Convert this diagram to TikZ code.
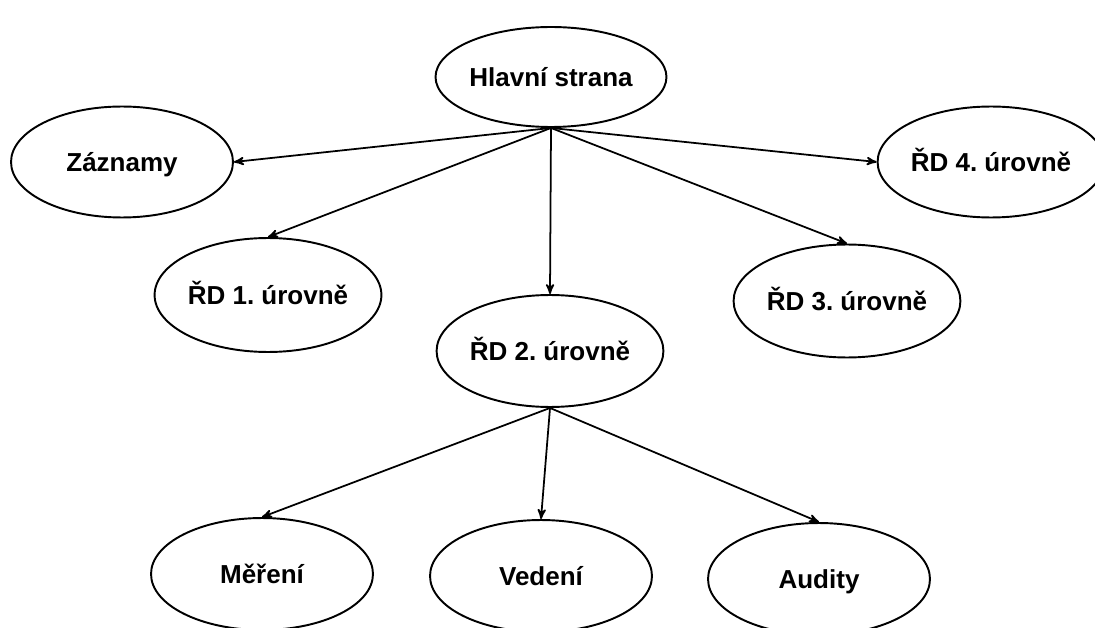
\documentclass[tikz,border=0pt]{standalone}
\usepackage{fontspec}
\setmainfont{Liberation Sans}
\usepackage{tikz}
\usetikzlibrary{shapes.geometric}
\usetikzlibrary{arrows}

\begin{document}
\begin{tikzpicture}
  [
    x=0.02cm, y=-0.02cm,
    page/.style={
      ellipse,
      draw=black,
      line width=1.1pt,
      inner sep=0pt,
      text height=10.6pt,
      text depth=0pt,
      minimum width=4.44cm,
      minimum height=2.22cm,
      font=\bfseries\fontsize{14.8}{16}\selectfont\frenchspacing
    },
    ld/.style={draw=black,line width=1pt,->,>=stealth'}
  ]
  \useasboundingbox (0,0) rectangle (1095,628);

  \node (hs)  at (551,77)  [page, minimum height=2.0cm] {Hlavní strana};
  \node (zaz) at (122,162) [page] {Záznamy};
  \node (rd4) at (991,162) [page, minimum width=4.2cm] {ŘD 4. úrovně};
  \node (rd1) at (268,295) [page, minimum height=2.28cm] {ŘD 1. úrovně};
  \node (rd3) at (847,301) [page, minimum width=4.5cm, minimum height=2.26cm] {ŘD 3. úrovně};
  \node (rd2) at (550,351) [page, minimum height=2.24cm] {ŘD 2. úrovně};

  \node (mer) at (262,574) [page, minimum height=2.24cm] {Měření};
  \node (ved) at (541,576) [page, minimum height=2.24cm] {Vedení};
  \node (aud) at (819,579) [page, minimum height=2.24cm] {Audity};

  \draw [ld] (hs.south) -- (zaz.east);
  \draw [ld] (hs.south) -- (rd1.north);
  \draw [ld] (hs.south) -- (rd2.north);
  \draw [ld] (hs.south) -- (rd3.north);
  \draw [ld] (hs.south) -- (rd4.west);

  \draw [ld] (rd2.south) -- (mer.north);
  \draw [ld] (rd2.south) -- (ved.north);
  \draw [ld] (rd2.south) -- (aud.north);

\end{tikzpicture}
\end{document}
